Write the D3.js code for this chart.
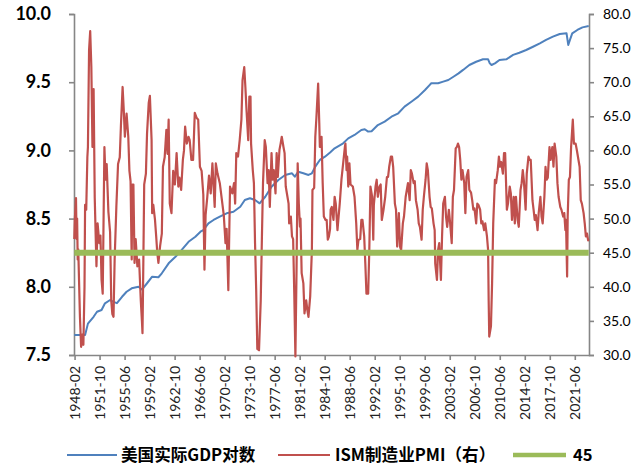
<!DOCTYPE html>
<html>
<head>
<meta charset="utf-8">
<script src="https://cdn.jsdelivr.net/npm/d3@7"></script>
<style>
  body { margin: 0; background: #fff; }
  svg { display: block; }
</style>
</head>
<body>
<div id="chart"></div>
<script>
// months on the category axis: 1948-01 .. 2023-06
const startYear = 1948, monthCount = 906;
const tickEvery = 44;

const leftTicks = [7.5, 8.0, 8.5, 9.0, 9.5, 10.0];
const rightTicks = [30, 35, 40, 45, 50, 55, 60, 65, 70, 75, 80];

const legendNames = ["美国实际GDP对数", "ISM制造业PMI（右）", "45"];
const refLevel = 45;

const gdp = [
  ["1948-01",7.647],["1949-08",7.647],["1950-01",7.73],["1950-11",7.78],["1951-05",7.817],["1952-01",7.83],
  ["1952-07",7.879],["1953-04",7.903],["1953-10",7.89],["1954-04",7.88],["1955-01",7.927],["1955-09",7.964],
  ["1956-06",7.989],["1957-06",8.001],["1957-12",7.98],["1958-09",8.026],["1959-06",8.074],["1960-05",8.07],
  ["1960-11",8.099],["1961-11",8.172],["1962-11",8.22],["1963-10",8.27],["1964-10",8.33],["1965-10",8.367],
  ["1966-07",8.404],["1966-12",8.416],["1967-09",8.465],["1968-06",8.49],["1969-05",8.514],["1970-05",8.539],
  ["1971-05",8.55],["1972-05",8.587],["1973-01",8.636],["1973-10",8.649],["1974-07",8.636],["1975-03",8.612],
  ["1976-01",8.66],["1976-12",8.734],["1977-12",8.783],["1978-12",8.82],["1979-12",8.832],["1980-05",8.807],
  ["1980-11",8.844],["1981-08",8.832],["1982-05",8.82],["1982-11",8.832],["1983-05",8.881],["1984-01",8.93],
  ["1984-10",8.954],["1985-07",8.985],["1986-03",9.015],["1987-06",9.052],["1988-03",9.088],["1989-02",9.113],
  ["1990-02",9.15],["1990-08",9.155],["1991-02",9.138],["1991-08",9.14],["1992-07",9.186],["1993-07",9.211],
  ["1994-07",9.247],["1995-07",9.272],["1996-06",9.321],["1997-06",9.357],["1998-06",9.394],["1999-06",9.443],
  ["2000-02",9.479],["2000-05",9.492],["2001-05",9.492],["2002-02",9.504],["2002-11",9.516],["2003-08",9.54],
  ["2004-05",9.565],["2005-01",9.59],["2005-12",9.626],["2006-12",9.65],["2007-12",9.668],["2008-09",9.668],
  ["2008-12",9.638],["2009-03",9.626],["2009-09",9.638],["2010-05",9.663],["2011-05",9.668],["2012-05",9.7],
  ["2013-04",9.716],["2014-04",9.736],["2015-04",9.76],["2016-04",9.785],["2017-03",9.81],["2018-03",9.834],
  ["2019-03",9.853],["2020-03",9.858],["2020-06",9.773],["2020-09",9.81],["2021-01",9.858],["2021-10",9.883],
  ["2022-07",9.902],["2023-06",9.912]
];

// ISM manufacturing PMI
const pmi = [
  ["1948-01",47],["1948-02",50],["1948-04",53],["1948-05",47],["1948-06",50],["1948-07",44],["1948-08",45.5],
  ["1948-11",35.5],["1949-01",31.2],["1949-03",33],["1949-05",31.5],["1949-07",40],["1949-08",52],["1949-10",51.3],
  ["1949-12",59],["1950-01",60.5],["1950-03",74.7],["1950-05",77.5],["1950-07",72.3],["1950-09",60.5],["1950-11",69],
  ["1951-01",53],["1951-04",43],["1951-06",49.3],["1951-09",46.4],["1951-11",47.5],["1952-01",41],["1952-03",39],
  ["1952-06",60.5],["1952-08",55.7],["1952-10",58],["1953-01",51],["1953-04",48],["1953-06",38],["1953-08",36],
  ["1953-10",35.6],["1953-12",44],["1954-03",51.7],["1954-06",58],["1954-09",59],["1954-11",63.5],["1955-02",69.3],
  ["1955-04",66],["1955-06",62],["1955-09",65.4],["1955-12",62],["1956-02",57],["1956-04",55.5],["1956-06",44],
  ["1956-07",55],["1956-09",55],["1956-11",43.5],["1957-01",47],["1957-04",43],["1957-07",44],["1957-10",38],
  ["1957-12",35],["1958-01",33.2],["1958-02",40],["1958-04",55],["1958-07",56.6],["1958-09",62.5],["1958-12",67],
  ["1959-02",68],["1959-05",61.5],["1959-06",50.8],["1959-08",52],["1959-11",49.8],["1960-01",47.5],["1960-03",45],
  ["1960-05",43.5],["1960-08",46],["1960-11",47.8],["1961-01",57.6],["1961-04",59],["1961-07",63],["1961-09",59.5],
  ["1961-11",64.5],["1962-01",52.2],["1962-04",50.8],["1962-07",57],["1962-10",55],["1963-01",59.6],["1963-04",54.7],
  ["1963-06",56],["1963-09",54.2],["1963-12",58.6],["1964-02",60],["1964-04",63.5],["1964-07",61],["1964-10",62],
  ["1964-12",61.5],["1965-03",58.6],["1965-06",58.6],["1965-09",65.5],["1965-12",64.8],["1966-03",64.5],["1966-06",57.6],
  ["1966-09",57],["1966-12",53.5],["1967-02",42.5],["1967-04",50.5],["1967-07",53.2],["1967-10",56.3],["1968-01",53.7],
  ["1968-04",58.1],["1968-08",51.7],["1968-10",58.1],["1969-01",56.6],["1969-05",55.2],["1969-08",53.2],["1969-12",50.5],
  ["1970-03",46.4],["1970-05",48.5],["1970-08",39.5],["1970-11",54.7],["1971-03",53.7],["1971-06",55.2],["1971-08",52.2],
  ["1971-10",59.6],["1972-01",59.1],["1972-04",61.5],["1972-07",64.5],["1972-09",70.3],["1972-12",72.2],["1973-02",69.3],
  ["1973-04",65.9],["1973-07",61.5],["1973-09",67.9],["1973-11",67.9],["1973-12",61],["1974-03",57.1],["1974-05",55.2],
  ["1974-07",46.4],["1974-09",39.5],["1974-11",30.9],["1975-02",30.7],["1975-05",38],["1975-07",46.9],["1975-09",55.2],
  ["1975-12",61.5],["1976-02",60.5],["1976-05",55.2],["1976-07",57.1],["1976-09",51.7],["1976-12",59.6],["1977-02",55.7],
  ["1977-04",57.1],["1977-07",53.7],["1977-09",59.6],["1977-11",56.1],["1978-02",60.1],["1978-04",61],["1978-06",62],
  ["1978-09",60.5],["1978-11",59.6],["1979-01",54.7],["1979-04",53.2],["1979-06",52.2],["1979-07",49.3],["1979-10",50.3],
  ["1979-12",47.4],["1980-02",47],["1980-04",39],["1980-06",29.8],["1980-08",42.5],["1980-10",58.1],["1980-12",52.2],
  ["1981-02",48.8],["1981-03",50],["1981-05",42],["1981-08",40.5],["1981-10",36.1],["1982-01",38],["1982-03",36.6],
  ["1982-05",35.6],["1982-08",38.6],["1982-11",45.4],["1982-12",54.2],["1983-03",54.5],["1983-05",62],["1983-07",64.9],
  ["1983-10",69.8],["1983-12",64],["1984-01",60.5],["1984-04",62],["1984-06",55.2],["1984-08",50.3],["1984-11",49.8],
  ["1985-01",49.8],["1985-03",46.9],["1985-05",47.4],["1985-07",48.5],["1985-08",51.3],["1985-10",51.7],["1986-01",49.8],
  ["1986-03",53.2],["1986-05",52.2],["1986-08",48.3],["1986-10",50.3],["1986-12",52.2],["1987-03",55.7],["1987-06",58.1],
  ["1987-09",60.5],["1987-10",61],["1987-12",57.1],["1988-01",59.1],["1988-03",54.7],["1988-05",58.1],["1988-07",55],
  ["1988-11",54.7],["1989-02",53.2],["1989-05",49.3],["1989-07",45.4],["1989-09",46.9],["1989-12",47],["1990-02",49.8],
  ["1990-04",49.8],["1990-07",47.4],["1990-09",43.4],["1990-11",39],["1991-02",39],["1991-04",45.4],["1991-06",54.7],
  ["1991-09",53.2],["1991-11",46.9],["1991-12",52],["1992-03",54.7],["1992-05",55.7],["1992-07",53.2],["1992-10",54.7],
  ["1992-12",55],["1993-02",49.8],["1993-05",51.3],["1993-08",53.2],["1993-11",56.1],["1994-01",56.1],["1994-03",57.6],
  ["1994-06",59.1],["1994-08",59.1],["1994-10",57.6],["1995-01",52.2],["1995-03",51.3],["1995-05",45.9],["1995-08",50.8],
  ["1995-10",45.9],["1995-12",45.4],["1996-03",49.3],["1996-05",50.3],["1996-08",53.2],["1996-10",54.2],["1996-12",55.2],
  ["1997-03",52.7],["1997-05",57.1],["1997-07",56.6],["1997-10",55.2],["1997-12",55.5],["1998-02",52.7],["1998-05",51.3],
  ["1998-07",49.3],["1998-09",48.8],["1998-12",46.9],["1999-02",51.3],["1999-04",53.2],["1999-07",55.7],["1999-09",58.1],
  ["1999-11",57.1],["2000-02",53.2],["2000-04",51.7],["2000-06",51.5],["2000-09",49.3],["2000-11",48.3],["2000-12",43.4],
  ["2001-03",41],["2001-05",45.4],["2001-07",46.4],["2001-10",41],["2001-12",47.4],["2002-02",52.2],["2002-05",53.2],
  ["2002-07",50.3],["2002-09",48.8],["2002-12",51.3],["2003-02",49.5],["2003-05",46.4],["2003-07",53.2],["2003-09",54.2],
  ["2003-12",60.3],["2004-02",60.5],["2004-04",61],["2004-06",60.5],["2004-08",58.6],["2004-10",55.7],["2004-12",57.1],
  ["2005-03",55.2],["2005-05",50.8],["2005-07",56.1],["2005-10",57.1],["2005-12",54.2],["2006-03",53.8],["2006-05",52.7],
  ["2006-07",51.3],["2006-09",51.5],["2006-12",49.3],["2007-02",52.2],["2007-04",52],["2007-07",51.3],["2007-09",49.3],
  ["2007-11",49.6],["2008-02",48.3],["2008-04",49.3],["2008-07",47.4],["2008-09",45.4],["2008-10",38],["2008-11",32.7],
  ["2009-02",34.2],["2009-04",40.5],["2009-06",49.3],["2009-09",55.7],["2009-11",55.2],["2010-02",57.1],["2010-04",59.1],
  ["2010-06",57.6],["2010-08",58.3],["2010-11",56.6],["2011-01",59.6],["2011-03",59.6],["2011-06",51.3],["2011-08",52.2],
  ["2011-11",54.7],["2012-01",53.7],["2012-03",49.8],["2012-06",53.2],["2012-08",49.3],["2012-10",53.2],["2013-01",49.8],
  ["2013-03",48.8],["2013-06",54.2],["2013-08",55.2],["2013-10",57.1],["2013-12",55.5],["2014-03",51.3],["2014-05",56.6],
  ["2014-08",59.1],["2014-10",58.6],["2014-12",58.6],["2015-03",52.7],["2015-05",51.3],["2015-07",49.8],["2015-09",50.5],
  ["2015-12",48.3],["2016-02",50.8],["2016-05",53.2],["2016-07",50.3],["2016-09",49.3],["2016-12",53.2],["2017-02",57.6],
  ["2017-04",55.7],["2017-06",56],["2017-09",60.5],["2017-11",58.6],["2018-02",60.5],["2018-04",57.6],["2018-06",61],
  ["2018-09",59.1],["2018-11",55.2],["2019-01",53.2],["2019-04",51.7],["2019-06",51.3],["2019-09",50.3],["2019-11",50.8],
  ["2020-01",48.3],["2020-02",49.8],["2020-04",41.5],["2020-05",50.3],["2020-07",55.7],["2020-09",56.1],["2020-11",60.5],
  ["2021-02",64.5],["2021-04",61],["2021-07",61],["2021-09",60.1],["2021-12",58.6],["2022-02",57.6],["2022-04",52.7],
  ["2022-06",52.2],["2022-09",50.8],["2022-11",49.3],["2023-01",47.4],["2023-03",47.8],["2023-05",46.8],["2023-06",47]
];

const width = 644, height = 467;
const plotLeft = 74, plotRight = 589, plotTop = 14, plotBottom = 355;
const axisColor = "#868686";
const blue = "#4F81BD", red = "#C0504D", green = "#9BBB59";

const fmtMonth = d3.timeFormat("%Y-%m");
const months = d3.range(monthCount).map(i => fmtMonth(new Date(startYear, i, 1)));

const x = d3.scaleBand().domain(months).range([plotLeft, plotRight]);
const cx = m => x(m) + x.bandwidth() / 2;
const yL = d3.scaleLinear().domain([7.5, 10]).range([plotBottom, plotTop]);
const yR = d3.scaleLinear().domain([30, 80]).range([plotBottom, plotTop]);

const svg = d3.select("#chart").append("svg").attr("width", width).attr("height", height);

// left axis
const gL = svg.append("g").attr("transform", "translate(" + plotLeft + ",0)")
  .call(d3.axisLeft(yL).tickValues(leftTicks).tickFormat(d3.format(".1f")).tickSize(5).tickPadding(18));
gL.selectAll("text").style("font-family", "Lato, sans-serif").style("font-size", "18px")
  .style("font-weight", "bold").attr("fill", "#000");

// right axis
const gR = svg.append("g").attr("transform", "translate(" + plotRight + ",0)")
  .call(d3.axisRight(yR).tickValues(rightTicks).tickFormat(d3.format(".1f")).tickSize(5).tickPadding(9));
gR.selectAll("text").style("font-family", "Lato, sans-serif").style("font-size", "14px").attr("fill", "#000");

// bottom axis
const gB = svg.append("g").attr("transform", "translate(0," + plotBottom + ")")
  .call(d3.axisBottom(x).tickValues(months.filter((m, i) => i % tickEvery === 1)).tickSize(5).tickSizeOuter(0));
gB.selectAll("text")
  .attr("transform", "rotate(-90)").attr("text-anchor", "end")
  .attr("x", -11).attr("y", 0).attr("dy", "0.35em")
  .style("font-family", "Lato, sans-serif").style("font-size", "14px").attr("fill", "#222");

svg.selectAll(".domain, .tick line").attr("stroke", axisColor).attr("stroke-width", 1.6);

// series
const lineL = d3.line().x(d => cx(d[0])).y(d => yL(d[1]));
const lineR = d3.line().x(d => cx(d[0])).y(d => yR(d[1]));

svg.append("path").datum(gdp).attr("d", lineL)
  .attr("fill", "none").attr("stroke", blue).attr("stroke-width", 2).attr("stroke-linejoin", "round");

svg.append("path").datum(pmi).attr("d", lineR)
  .attr("fill", "none").attr("stroke", red).attr("stroke-width", 2.2).attr("stroke-linejoin", "round");

svg.append("path").datum([[months[0], refLevel], [months[monthCount - 1], refLevel]]).attr("d", lineR)
  .attr("fill", "none").attr("stroke", green).attr("stroke-width", 6);

// legend
const legY = 455;
const legend = [
  {name: legendNames[0], color: blue, w: 2, x0: 67, x1: 117, tx: 121},
  {name: legendNames[1], color: red, w: 2, x0: 278, x1: 330, tx: 335},
  {name: legendNames[2], color: green, w: 4.5, x0: 513, x1: 566, tx: 573}
];
const lg = svg.append("g").selectAll("g").data(legend).enter().append("g");
lg.append("line").attr("x1", d => d.x0).attr("x2", d => d.x1).attr("y1", legY).attr("y2", legY)
  .attr("stroke", d => d.color).attr("stroke-width", d => d.w);
lg.append("text").attr("x", d => d.tx).attr("y", legY).attr("dy", "0.35em")
  .style("font-family", "'Noto Sans CJK SC', sans-serif").style("font-size", "16.6px").style("font-weight", "bold")
  .attr("fill", "#000").text(d => d.name);
</script>
</body>
</html>
